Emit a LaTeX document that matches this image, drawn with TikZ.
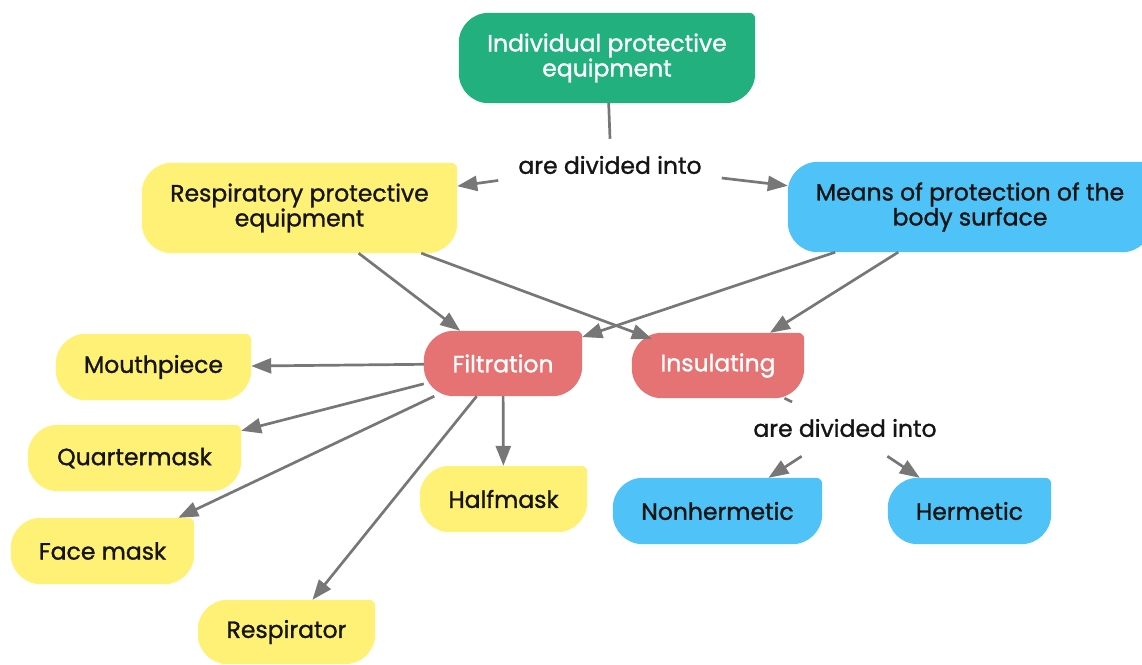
\documentclass[tikz,border=0pt]{standalone}
\usepackage{fontspec}
\setmainfont{Poppins}[FakeBold=1.2]
\usetikzlibrary{arrows.meta,backgrounds}

\definecolor{leafgreen}{HTML}{21B07E}
\definecolor{leafyellow}{HTML}{FFF176}
\definecolor{leafblue}{HTML}{4FC3F7}
\definecolor{leafred}{HTML}{E57373}
\definecolor{linkgray}{HTML}{777777}
\definecolor{inkdark}{HTML}{151515}

% box behind a node: large radius on three corners, small radius top-right
\newcommand{\leafshape}[2]{%
  \fill[#2] ([yshift=-30pt]#1.north west) arc[start angle=180,end angle=90,radius=30pt]
    -- ([xshift=-6pt]#1.north east) arc[start angle=90,end angle=0,radius=6pt]
    -- ([yshift=30pt]#1.south east) arc[start angle=0,end angle=-90,radius=30pt]
    -- ([xshift=30pt]#1.south west) arc[start angle=270,end angle=180,radius=30pt]
    -- cycle;}

\begin{document}
\begin{tikzpicture}[x=1pt,y=1pt,
  box/.style={inner sep=0pt, align=center, font=\fontsize{23.5}{25}\selectfont, text=inkdark},
  lightbox/.style={box, text=white},
  tag/.style={inner xsep=20pt, inner ysep=19pt, font=\fontsize{23.5}{25}\selectfont, text=inkdark},
  link/.style={draw=linkgray, line width=2.7pt, -{Triangle[length=20pt,width=15pt]}},
  stem/.style={draw=linkgray, line width=2.7pt}]

\useasboundingbox (0,0) rectangle (1142,-664);

% top level
\node[lightbox, minimum width=296pt, minimum height=90pt] (ipe) at (607,-58) {Individual protective\\equipment};
\node[tag] (div1) at (610,-165) {are divided into};

% two groups
\node[box, minimum width=315pt, minimum height=90pt] (rpe) at (299.5,-208) {Respiratory protective\\equipment};
\node[box, minimum width=364pt, minimum height=90pt] (mps) at (970,-207) {Means of protection of the\\body surface};

% kinds
\node[lightbox, minimum width=158pt, minimum height=65pt] (fil) at (503,-363.5) {Filtration};
\node[lightbox, minimum width=172pt, minimum height=65pt] (ins) at (718,-365.5) {Insulating};

% filtration types
\node[box, minimum width=195pt, minimum height=66pt] (mou) at (153.5,-367) {Mouthpiece};
\node[box, minimum width=213pt, minimum height=66pt] (qm) at (134.5,-458) {Quartermask};
\node[box, minimum width=183pt, minimum height=66pt] (fm) at (102.5,-551) {Face mask};
\node[box, minimum width=167pt, minimum height=66pt] (hm) at (503.5,-499) {Halfmask};
\node[box, minimum width=177pt, minimum height=64pt] (res) at (286.5,-632) {Respirator};

% insulating types
\node[tag] (div2) at (845,-428) {are divided into};
\node[box, minimum width=209pt, minimum height=66pt] (nh) at (717.5,-511) {Nonhermetic};
\node[box, minimum width=163pt, minimum height=66pt] (her) at (969.5,-511) {Hermetic};

\begin{scope}[on background layer]
  \draw[stem, shorten >=-5pt] (ins) -- (div2);
  \leafshape{ipe}{leafgreen}
  \leafshape{rpe}{leafyellow}
  \leafshape{mps}{leafblue}
  \leafshape{fil}{leafred}
  \leafshape{ins}{leafred}
  \leafshape{mou}{leafyellow}
  \leafshape{qm}{leafyellow}
  \leafshape{fm}{leafyellow}
  \leafshape{hm}{leafyellow}
  \leafshape{res}{leafyellow}
  \leafshape{nh}{leafblue}
  \leafshape{her}{leafblue}
\end{scope}

% connectors
\draw[stem] (ipe) -- ([yshift=-2pt]div1.north);
\draw[link] (div1) -- (rpe);
\draw[link] (div1) -- (mps);
\draw[link] (rpe) -- (fil);
\draw[link] (rpe) -- ([xshift=20pt,yshift=-6pt]ins.north west);
\draw[link] (mps) -- (fil);
\draw[link] (mps) -- (ins);
\draw[link] (fil) -- (mou);
\draw[link] (fil) -- (qm);
\draw[link] (fil) -- ([xshift=-16pt]fm.north east);
\draw[link] (fil) -- (res);
\draw[link] (fil) -- (hm);
\draw[link] (div2) -- (nh);
\draw[link] (div2) -- (her);
\end{tikzpicture}
\end{document}
